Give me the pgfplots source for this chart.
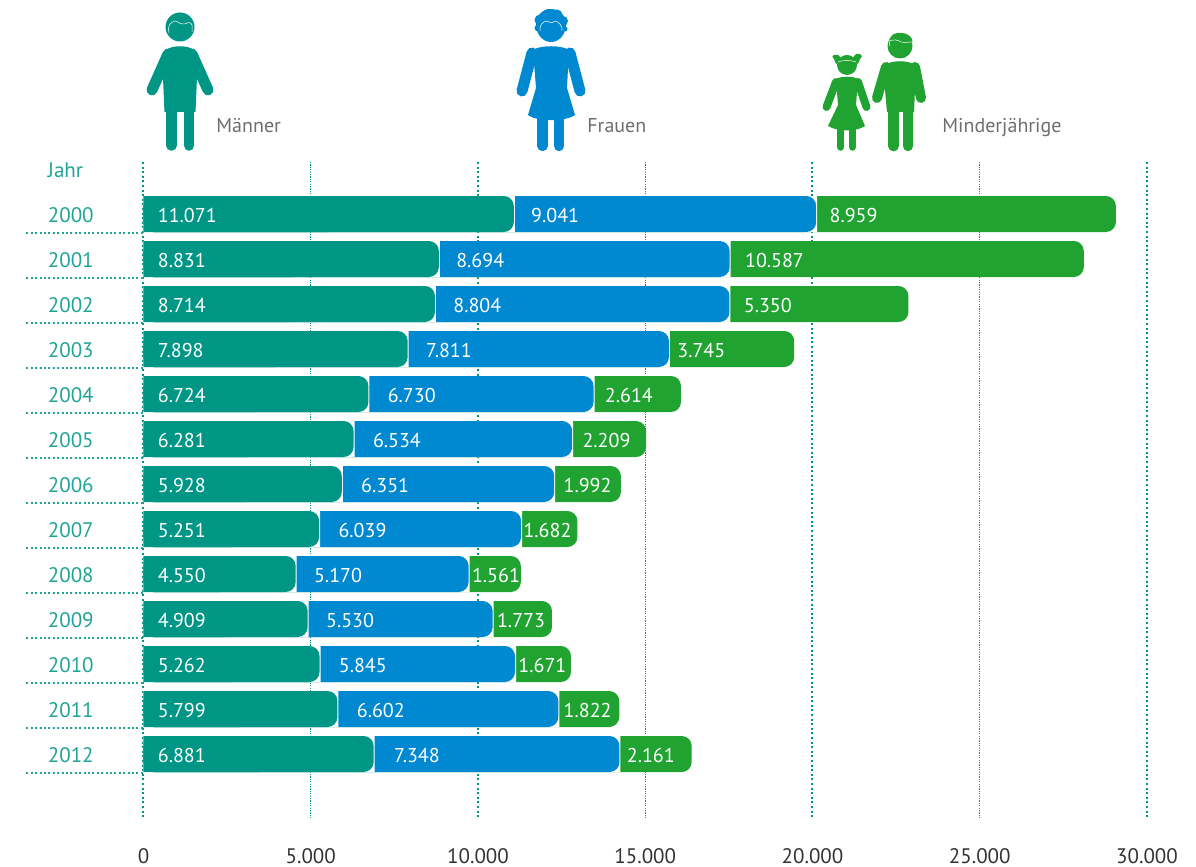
\documentclass[border=0pt]{standalone}
\usepackage{fontspec}
\setmainfont{PT Sans}
\usepackage{pgfplots}
\usepackage{pgfplotstable}
\pgfplotsset{compat=1.18}
\definecolor{teal1}{HTML}{009685}
\definecolor{blue1}{HTML}{0088D0}
\definecolor{green1}{HTML}{20A330}
\definecolor{yeartxt}{HTML}{1FA495}
\definecolor{gray1}{HTML}{6E6E6E}
\definecolor{dark1}{HTML}{333333}
\pgfplotstableread{
row m w k lb lg
0 11071 9041 8959 17 13
1 8831 8694 10587 17 15
2 8714 8804 5350 18 14
3 7898 7811 3745 18 8
4 6724 6730 2614 19 11
5 6281 6534 2209 19 10
6 5928 6351 1992 19 9
7 5251 6039 1682 19 2
8 4550 5170 1561 18 3
9 4909 5530 1773 18 4
10 5262 5845 1671 19 3
11 5799 6602 1822 19 5
12 6881 7348 2161 20 7
}\datatable
\pgfplotsset{
  seg/.style={xbar, bar width=18pt, bar shift=0pt, draw=none, fill=#1, forget plot},
  lab/.style={only marks, mark=none, forget plot, nodes near coords,
    every node near coord/.append style={anchor=west, inner sep=0pt, text=white, yshift=-0.8pt, font=\fontsize{10}{12}\selectfont}},
  frame/.style={
    at={(71.75pt,24.5pt)}, anchor=south west,
    scale only axis, width=501.75pt, height=328pt,
    xmin=0, xmax=30000, ymin=-1.1556, ymax=13.422, y dir=reverse,
    axis line style={draw=none}, clip=false, scaled x ticks=false,
    xtick pos=bottom, ytick pos=left},
}
\begin{document}
\begin{tikzpicture}
\path[use as bounding box] (0,0) rectangle (598pt,433.5pt);
% underlay: heavy dotted gridlines and the dotted rules under the years
\begin{axis}[frame,
  xtick={0,10000,20000,30000}, xticklabels={}, xtick style={draw=none},
  xmajorgrids,
  grid style={draw=teal1, line width=1pt, line cap=butt, dash pattern=on 1pt off 1.3pt},
  ytick={0.42,1.42,2.42,3.42,4.42,5.42,6.42,7.42,8.42,9.42,10.42,11.42,12.42},
  yticklabels={},
  ytick align=outside, major tick length=58.5pt,
  ytick style={draw=yeartxt, line width=1pt, line cap=butt, dash pattern=on 1pt off 1.2pt},
]
\end{axis}
\begin{axis}[frame,
  /pgf/number format/assume math mode=true,
  /pgf/number format/1000 sep={.},
  xtick={5000,15000,25000},
  extra x ticks={0,10000,20000,30000},
  extra x tick style={xmajorgrids=false},
  xtick style={draw=none},
  ytick style={draw=none},
  tick align=inside,
  xmajorgrids,
  grid style={draw=teal1, line width=0.35pt, dash pattern=on 0.6pt off 0.6pt},
  xticklabel style={font=\fontsize{10.5}{12}\selectfont, text=dark1, yshift=-11.5pt},
  ytick={-1,0,1,2,3,4,5,6,7,8,9,10,11,12},
  yticklabels={Jahr,2000,2001,2002,2003,2004,2005,2006,2007,2008,2009,2010,2011,2012},
  yticklabel style={font=\fontsize{10.5}{12}\selectfont, text=yeartxt, anchor=west, inner sep=0pt, xshift=-48pt, yshift=-0.8pt},
]
\addplot[seg=green1, rounded corners=5pt] table[x expr=\thisrow{m}+\thisrow{w}+\thisrow{k}, y=row] {\datatable};
\addplot[seg=white] table[x expr=\thisrow{m}+\thisrow{w}+30, y=row] {\datatable};
\addplot[seg=blue1, rounded corners=5pt] table[x expr=\thisrow{m}+\thisrow{w}, y=row] {\datatable};
\addplot[seg=white] table[x expr=\thisrow{m}+30, y=row] {\datatable};
\addplot[seg=teal1, rounded corners=5pt] table[x=m, y=row] {\datatable};
\addplot[seg=teal1] table[x expr=0.5*\thisrow{m}, y=row] {\datatable};
\addplot[lab, point meta=\thisrow{m}] table[x expr=14*29.9, y=row] {\datatable};
\addplot[lab, point meta=\thisrow{w}] table[x expr=\thisrow{m}+\thisrow{lb}*29.9, y=row] {\datatable};
\addplot[lab, point meta=\thisrow{k}] table[x expr=\thisrow{m}+\thisrow{w}+\thisrow{lg}*29.9, y=row] {\datatable};
\end{axis}
\begin{scope}[shift={(0pt,433.5pt)}, x=0.5pt, y=-0.5pt, line cap=round, line join=round]
  % Man
  \begin{scope}[fill=teal1, draw=teal1]
    \fill (180,27) circle[radius=14.5];
    \draw[white, line width=0.25pt] (169,33) .. controls (167,27) and (170,22) .. (175,21) .. controls (178,21) and (180,25) .. (185,24) .. controls (188,22) and (191,22) .. (192,25) -- (192,32);
    \fill (166,50) .. controls (172,45) and (188,45) .. (194,50) -- (197,78) -- (195.5,112) -- (164.5,112) -- (163,78) -- cycle;
    \draw[line width=5.5pt] (168,54) -- (152,90);
    \draw[line width=5.5pt] (192,54) -- (208,90);
    \draw[line width=5.3pt] (171.5,108) -- (171.5,145.5);
    \draw[line width=5.3pt] (189,108) -- (189,145.5);
  \end{scope}
  % Woman
  \begin{scope}[fill=blue1, draw=blue1]
    \fill (551,24) circle[radius=15];
    \fill (540,20) circle[radius=5.5] (548,14.5) circle[radius=5.5] (557,15) circle[radius=5.5] (563,21) circle[radius=5] (538,28) circle[radius=3.5] (565,29) circle[radius=2.5];
    \fill (551,28) circle[radius=14];
    \draw[white, line width=0.25pt] (540,31) .. controls (539,25) and (543,22) .. (546,21) .. controls (549,22) and (552,24) .. (555,21) .. controls (559,22) and (563,26) .. (562,31);
    \fill (533,50) .. controls (540,45) and (562,45) .. (569,50) -- (567,88) -- (575,115) .. controls (565,122) and (537,122) .. (528,115) -- (536,88) -- cycle;
    \draw[line width=5.5pt] (532,53) -- (522,91);
    \draw[line width=5.5pt] (570,53) -- (580,91);
    \draw[line width=5.2pt] (542.5,115) -- (542.5,146);
    \draw[line width=5.2pt] (559,115) -- (559,146);
  \end{scope}
  % Girl
  \begin{scope}[fill=green1, draw=green1, xshift=-1pt]
    \fill (849,65) circle[radius=10];
    \fill (836,59) .. controls (832,56) and (836,54) .. (840,55) -- (845,60) -- (838,64) -- cycle;
    \fill (862,59) .. controls (866,56) and (863,53) .. (858,54) -- (853,60) -- (860,64) -- cycle;
    \draw[white, line width=0.25pt] (840,62) .. controls (845,60) and (853,60) .. (858,62);
    \fill (838,79) .. controls (843,76) and (855,76) .. (860,79) -- (858,105) -- (867,126) .. controls (858,132) and (840,132) .. (830,126) -- (840,105) -- cycle;
    \draw[line width=4pt] (838,82) -- (828.5,107);
    \draw[line width=4pt] (860,82) -- (868.5,107);
    \draw[line width=3.8pt] (842.5,125) -- (842.5,147);
    \draw[line width=3.8pt] (854.5,125) -- (854.5,147);
  \end{scope}
  % Boy
  \begin{scope}[fill=green1, draw=green1]
    \fill (900,46) circle[radius=12.5];
    \fill (889,42) .. controls (890,34) and (896,32) .. (902,33) .. controls (908,33) and (913,38) .. (912.5,42) -- cycle;
    \draw[white, line width=0.25pt] (890,46) -- (889,41) .. controls (894,39) and (898,40) .. (901,42) .. controls (905,43) and (909,42) .. (912,42);
    \fill (885,65) .. controls (892,60) and (908,60) .. (915,65) -- (915,90) -- (914,112) -- (887,112) -- (885,90) -- cycle;
    \draw[line width=5pt] (886,67) -- (877,98);
    \draw[line width=5pt] (915,67) -- (921,98);
    \draw[line width=5.4pt] (893.5,105) -- (893.5,146);
    \draw[line width=5.2pt] (908,105) -- (908,146);
  \end{scope}
  \begin{scope}[every node/.style={anchor=base west, inner sep=0pt, text=gray1, font=\fontsize{10}{12}\selectfont}]
    \node at (216,132.5) {Männer};
    \node at (587,132.5) {Frauen};
    \node at (942,132.5) {Minderjährige};
  \end{scope}
\end{scope}
\end{tikzpicture}
\end{document}
